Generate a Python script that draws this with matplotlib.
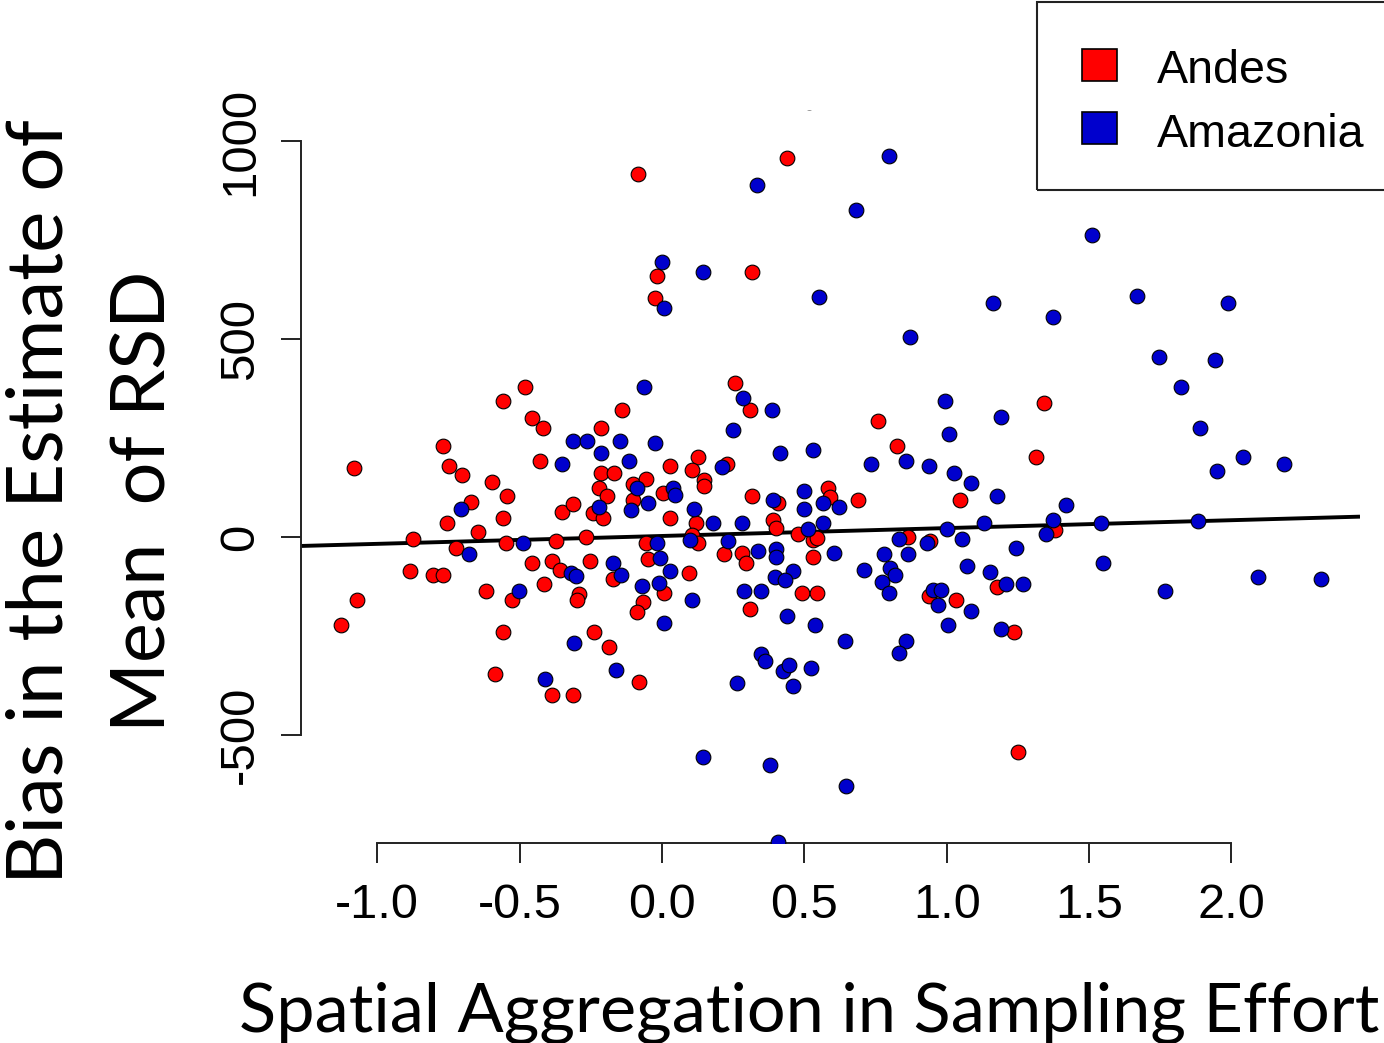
import matplotlib
matplotlib.use("Agg")
import matplotlib.pyplot as plt
from matplotlib.patches import Rectangle
import numpy as np

# ---------------- data ----------------
andes_x = [-1.081, -1.129, -1.072, -0.481, -0.557, -0.458, -0.419, -0.142, -0.770, -0.747,
           -0.701, -0.596, -0.543, -0.671, -0.754, -0.647, -0.557, -0.876, -0.725, -0.549,
           -0.885, -0.803, -0.768, -0.618, -0.528, -0.557, -0.587, -0.387, -0.314, -0.429,
           -0.352, -0.314, -0.215, -0.215, -0.169, -0.220, -0.192, -0.241, -0.206, -0.373,
           -0.267, -0.458, -0.387, -0.358, -0.253, -0.413, -0.290, -0.300, -0.239, -0.185,
           -0.080, -0.101, -0.056, -0.101, 0.028, 0.005, 0.028, -0.056, -0.048, -0.171,
           0.007, -0.066, -0.087,
           0.256, 0.309, 0.128, 0.104, 0.149, 0.149, 0.227, 0.119, 0.104, 0.128,
           0.096, 0.316, 0.409, 0.391, 0.399, 0.218, 0.280, 0.294, 0.309, 0.477,
           0.532, 0.546, 0.529, 0.491, 0.546, 0.584, 0.590, 0.690, 0.760, 0.827,
           0.865, 0.941, 0.939, 1.033, 1.047,
           1.380, 1.343, 1.313, 1.176, 1.236,
           -0.085, 0.440, -0.017, 0.317, -0.025,
           1.252]
andes_y = [173, -222, -159, 380, 344, 300, 276, 321, 231, 179,
           157, 139, 104, 88, 35, 13, 47, -5, -27, -14,
           -85, -96, -96, -136, -159, -239, -347, -399, -399, 192,
           64, 83, 276, 162, 162, 123, 104, 60, 47, -10,
           1, -66, -61, -83, -61, -119, -145, -159, -239, -279,
           -365, 134, 146, 93, 179, 110, 47, -14, -56, -107,
           -142, -163, -189,
           390, 321, 203, 169, 144, 129, 184, 35, 5, -16,
           -90, 104, 87, 43, 22, -44, -41, -66, -183, 7,
           -8, -3, -50, -142, -142, 123, 102, 93, 293, 230,
           1, -10, -148, -159, 93,
           18, 339, 201, -125, -239,
           917, 958, 659, 670, 603,
           -544]

amaz_x = [-0.063, -0.314, -0.262, -0.148, -0.025, -0.214, -0.116, -0.352, -0.087, 0.040,
          0.045, -0.048, -0.110, -0.221, -0.707, -0.678, -0.489, -0.321, -0.302, -0.502,
          -0.171, -0.145, -0.017, -0.007, 0.028, -0.069, -0.011, 0.007, -0.308, -0.162,
          -0.411,
          0.286, 0.385, 0.248, 0.414, 0.529, 0.210, 0.112, 0.180, 0.280, 0.233,
          0.098, 0.391, 0.499, 0.499, 0.564, 0.621, 0.567, 0.514, 0.338, 0.400,
          0.400, 0.461, 0.397, 0.432, 0.288, 0.348, 0.104, 0.438, 0.537, 0.605,
          0.643, 0.347, 0.362, 0.424, 0.447, 0.522, 0.461, 0.265, 0.733, 0.857,
          0.939, 1.024, 1.084, 0.994, 1.008, 1.000, 1.053, 1.070, 1.084, 1.006,
          0.953, 0.979, 0.970, 0.832, 0.780, 0.863, 0.711, 0.801, 0.818, 0.772,
          0.797, 0.857, 0.834, 0.930,
          1.822, 1.890, 2.042, 2.186, 1.951, 1.884, 1.541, 1.548, 1.767, 2.094,
          2.314, 1.419, 1.372, 1.348, 1.191, 1.176, 1.131, 1.243, 1.152, 1.208,
          1.267, 1.191,
          0.796, 0.333, 0.681, -0.001, 0.143, 0.007, 0.553, 1.161, 0.871,
          1.509, 1.670, 1.372, 1.989, 1.746, 1.944,
          0.143, 0.379, 0.645, 0.409, 0.516]
amaz_y = [380, 242, 242, 242, 237, 213, 192, 184, 123, 123,
          105, 87, 68, 77, 70, -44, -14, -92, -98, -136,
          -65, -96, -14, -54, -85, -124, -117, -216, -268, -336,
          -359,
          350, 321, 270, 213, 220, 178, 71, 35, 36, -10,
          -8, 93, 116, 71, 87, 77, 36, 19, -35, -31,
          -50, -85, -102, -109, -136, -136, -159, -200, -222, -40,
          -262, -295, -313, -338, -323, -332, -376, -369, 184, 192,
          179, 161, 137, 344, 260, 19, -6, -72, -186, -222,
          -134, -134, -172, -5, -44, -44, -83, -79, -96, -113,
          -142, -262, -292, -16,
          380, 276, 201, 184, 167, 41, 35, -66, -136, -102,
          -107, 81, 43, 7, 304, 104, 36, -27, -89, -119,
          -119, -233,
          963, 888, 826, 694, 670, 579, 607, 590, 504,
          763, 609, 556, 590, 454, 447,
          -555, -577, -629, -769, 1099]

# fitted line (intercept, slope)
fit_intercept = 2.6
fit_slope = 19.9

x_ticks = [-1.0, -0.5, 0.0, 0.5, 1.0, 1.5, 2.0]
x_ticklabels = ["-1.0", "-0.5", "0.0", "0.5", "1.0", "1.5", "2.0"]
y_ticks = [-500, 0, 500, 1000]
y_ticklabels = ["-500", "0", "500", "1000"]

series_names = ["Andes", "Amazonia"]
series_colors = ["#FF0000", "#0000CD"]

x_title = "Spatial Aggregation in Sampling Effort"
y_title_lines = ["Bias in the Estimate of", "Mean  of RSD"]

# ---------------- figure ----------------
W, H = 1384, 1043
fig = plt.figure(figsize=(W / 100, H / 100), dpi=100)
fig.patch.set_facecolor("white")

def fx(px):
    return px / W

def fy(py):
    return 1 - py / H

L, R, T, B = 301, 1360, 110, 843
ax = fig.add_axes([fx(L), fy(B), (R - L) / W, (B - T) / H])
ax.set_xlim((L - 662) / 284.7, (R - 662) / 284.7)
ax.set_ylim((537 - B) / 0.396, (537 - T) / 0.396)

for s in ["top", "right"]:
    ax.spines[s].set_visible(False)
ax.spines["left"].set_bounds(-500, 1000)
ax.spines["bottom"].set_bounds(-1, 2)
for s in ["left", "bottom"]:
    ax.spines[s].set_linewidth(1.4)
    ax.spines[s].set_color("#222222")

ax.set_xticks(x_ticks)
ax.set_xticklabels(x_ticklabels)
ax.set_yticks(y_ticks)
ax.set_yticklabels(y_ticklabels)
tick_family = ["Liberation Sans", "DejaVu Sans"]
ax.tick_params(axis="both", direction="out", length=14.5, width=1.4, color="#222222")
ax.tick_params(axis="x", pad=14)
ax.tick_params(axis="y", pad=13)
for lab in ax.get_xticklabels():
    lab.set_fontfamily(tick_family)
    lab.set_fontsize(35)
for lab in ax.get_yticklabels():
    lab.set_fontfamily(tick_family)
    lab.set_fontsize(35.5)
    lab.set_rotation(90)
    lab.set_va("center")
    lab.set_ha("right")

# regression line
xl = np.array(ax.get_xlim())
ax.plot(xl, fit_intercept + fit_slope * xl, color="black", lw=2.8, zorder=2,
        solid_capstyle="butt")

# points
ax.scatter(andes_x, andes_y, s=112, c=series_colors[0], edgecolors="black",
           linewidths=0.8, zorder=3)
ax.scatter(amaz_x, amaz_y, s=112, c=series_colors[1], edgecolors="black",
           linewidths=0.8, zorder=3)

# legend (manual, partly cut off at the right edge like the reference)
fig.add_artist(Rectangle((fx(1037), fy(190)), (1420 - 1037) / W, (190 - 2) / H,
                         transform=fig.transFigure, fill=False, lw=1.5,
                         edgecolor="#222222"))
sq_tops = [49, 112]
baselines = [83, 147]
for name, col, top, bl in zip(series_names, series_colors, sq_tops, baselines):
    fig.add_artist(Rectangle((fx(1082), fy(top + 32)), 35 / W, 32 / H,
                             transform=fig.transFigure, facecolor=col,
                             edgecolor="black", lw=1.2))
    fig.text(fx(1157), fy(bl), name, ha="left", va="baseline", fontsize=33.6,
             family=["Liberation Sans", "DejaVu Sans"])

# axis titles (fitted to the reference extents)
renderer = fig.canvas.get_renderer()
title_font = ["Lato", "DejaVu Sans"]

def fitted_text(x, y, s, target_len, rotation=0, **kw):
    t = fig.text(x, y, s, fontsize=50, family=title_font, rotation=rotation,
                 rotation_mode="anchor", **kw)
    bb = t.get_window_extent(renderer)
    cur = bb.height if rotation == 90 else bb.width
    t.set_fontsize(50 * target_len / cur)
    return t

fitted_text(fx(809), fy(1031), x_title, 1138, ha="center", va="baseline")
fitted_text(fx(63), fy(502), y_title_lines[0], 765, rotation=90,
            ha="center", va="baseline")
fitted_text(fx(165), fy(501), y_title_lines[1], 462, rotation=90,
            ha="center", va="baseline")

fig.savefig("out.png", dpi=100, facecolor="white")
